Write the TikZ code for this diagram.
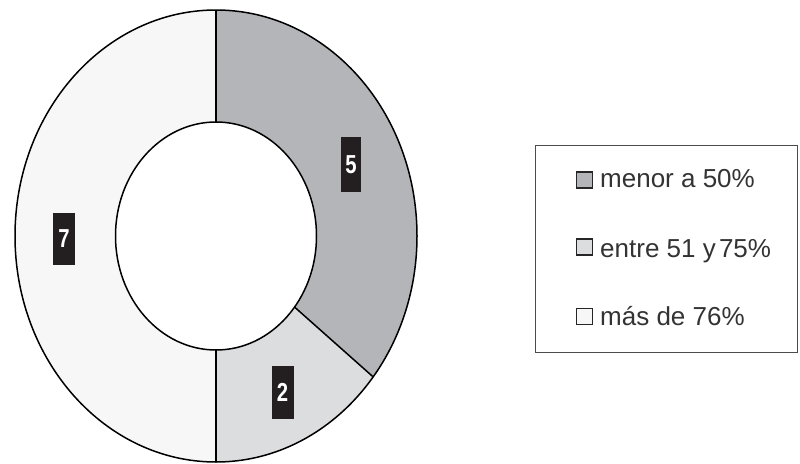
\documentclass[tikz,border=0pt]{standalone}
\usepackage{fontspec}
\setmainfont{Liberation Sans}
\newfontfamily\numfont[FakeStretch=0.78]{Liberation Sans}
\definecolor{cfive}{HTML}{B4B5B9}
\definecolor{ctwo}{HTML}{DCDDDF}
\definecolor{cseven}{HTML}{F7F7F7}
\definecolor{boxbg}{HTML}{231F20}
\definecolor{legtxt}{HTML}{333333}
\tikzset{
  rim/.style={draw=black, line width=1.5pt},
  numbox/.style={fill=boxbg, text=white, inner sep=0pt, font=\numfont\bfseries\fontsize{26}{26}\selectfont},
  legsq/.style={draw=black!85, line width=1.4pt, minimum width=16pt, minimum height=16pt, inner sep=0pt},
  legtext/.style={anchor=base west, inner sep=0pt, text=legtxt, font=\fontsize{26}{26}\selectfont},
  legframe/.style={draw=black!70, line width=1pt, minimum width=262pt, minimum height=207pt, inner sep=0pt}
}
\begin{document}
\begin{tikzpicture}[x=1pt,y=1pt]
\useasboundingbox (0,0) rectangle (800,-463);
\begin{scope}[shift={(216,-236)}]
  \def\ra{201}\def\rb{226}\def\ia{100.5}\def\ib{114}\def\cut{-38.57}
  \fill[cfive] (90:\ra\space and \rb) arc[start angle=90,end angle=\cut,x radius=\ra,y radius=\rb]
     -- (\cut:\ia\space and \ib) arc[start angle=\cut,end angle=90,x radius=\ia,y radius=\ib] -- cycle;
  \fill[ctwo] (\cut:\ra\space and \rb) arc[start angle=\cut,end angle=-90,x radius=\ra,y radius=\rb]
     -- (-90:\ia\space and \ib) arc[start angle=-90,end angle=\cut,x radius=\ia,y radius=\ib] -- cycle;
  \fill[cseven] (-90:\ra\space and \rb) arc[start angle=-90,end angle=-270,x radius=\ra,y radius=\rb]
     -- (90:\ia\space and \ib) arc[start angle=90,end angle=270,x radius=\ia,y radius=\ib] -- cycle;
  \draw[rim] (0,0) ellipse[x radius=\ra, y radius=\rb];
  \draw[rim] (0,0) ellipse[x radius=\ia, y radius=\ib];
  \coordinate (o1) at (90:\ra\space and \rb);
  \coordinate (i1) at (90:\ia\space and \ib);
  \coordinate (o2) at (\cut:\ra\space and \rb);
  \coordinate (i2) at (\cut:\ia\space and \ib);
  \coordinate (o3) at (-90:\ra\space and \rb);
  \coordinate (i3) at (-90:\ia\space and \ib);
  \draw[rim] (i1) -- (o1);
  \draw[rim] (i2) -- (o2);
  \draw[rim] (i3) -- (o3);
\end{scope}
\node[numbox, minimum width=20pt, minimum height=55pt] (n5) at (351,-164.5) {5};
\node[numbox, minimum width=22pt, minimum height=53pt] (n2) at (282.5,-392) {2};
\node[numbox, minimum width=22pt, minimum height=52pt] (n7) at (64,-238.5) {7};
\node[legframe] (leg) at (666,-248.5) {};
\node[legsq, fill=cfive] (s1) at (584.5,-180) {};
\node[legsq, fill=ctwo] (s2) at (584.5,-247) {};
\node[legsq, fill=cseven] (s3) at (584.5,-316.5) {};
\node[legtext] (t1) at (600,-187) {menor a 50\%};
\node[legtext] (t2) at (600,-257) {entre 51 y\hspace{-4pt} 75\%};
\node[legtext] (t3) at (600,-325) {más de 76\%};
\end{tikzpicture}
\end{document}
